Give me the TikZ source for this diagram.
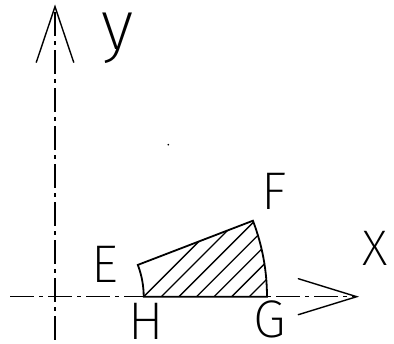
\documentclass[tikz,border=0pt]{standalone}
\usepackage{fontspec}
\usetikzlibrary{calc}
\newfontfamily\cadfont{Fira Sans ExtraLight}
\begin{document}
\begin{tikzpicture}[x=1pt,y=-1pt,
  axisline/.style={line width=1.4pt,dash pattern=on 24pt off 5pt on 4pt off 5pt},
  headline/.style={line width=1.4pt,line cap=round,line join=miter},
  outline/.style={line width=1.8pt,line join=miter},
  hatchline/.style={line width=1.3pt},
  lbl/.style={inner sep=0pt,anchor=base,font=\cadfont\fontsize{53}{53}\selectfont}]
\useasboundingbox (0,0) rectangle (394,344);
% axes
\coordinate (O) at (55,296.7);
\coordinate (xs) at (10,296.7);
\coordinate (xt) at (356.7,296.7);
\coordinate (ys) at (55,340);
\coordinate (yt) at (55,6.7);
\draw[axisline] (xs) -- (xt);
\draw[axisline] (ys) -- (yt);
\draw[headline] ($(xt)+(-58.4,-18)$) -- (xt) -- ($(xt)+(-58.4,18)$);
\draw[headline] ($(yt)+(-18.7,55.6)$) -- (yt) -- ($(yt)+(18.7,55.6)$);
% sector
\coordinate (H) at ($(O)+(88.7,0)$);
\coordinate (G) at ($(O)+(212,0)$);
\coordinate (E) at ($(O)+(-21:88.7)$);
\coordinate (F) at ($(O)+(-21:212)$);
\begin{scope}
  \clip (H) arc[start angle=0,end angle=-21,radius=88.7] -- (F)
        arc[start angle=-21,end angle=0,radius=212] -- cycle;
  \foreach \k in {0,...,8}{
    \draw[hatchline] ($(H)+(\k*17.6,0)+(-100,100)$) -- ($(H)+(\k*17.6,0)+(150,-150)$);
  }
\end{scope}
\draw[outline] (H) arc[start angle=0,end angle=-21,radius=88.7] -- (F)
      arc[start angle=-21,end angle=0,radius=212] -- cycle;
% speck
\fill (168.3,144.7) circle (0.9);
% labels
\node[lbl] (lE) at (105,283) {E};
\node[lbl] (lF) at (274,210) {F};
\node[lbl] (lH) at (145.7,339.5) {H};
\node[lbl] (lG) at (269.3,337.5) {G};
\node[lbl,font=\cadfont\fontsize{50}{50}\selectfont] (lX) at (375,266) {X};
\node[lbl,font=\cadfont\fontsize{70}{70}\selectfont] (ly) at (118,50) {y};
\end{tikzpicture}
\end{document}
